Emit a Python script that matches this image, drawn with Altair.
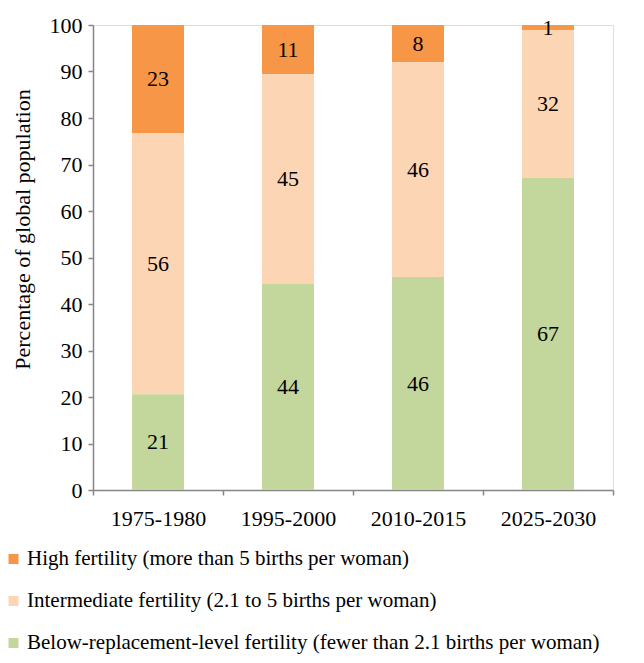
import altair as alt
import pandas as pd

periods = ["1975-1980", "1995-2000", "2010-2015", "2025-2030"]
below = [20.6, 44.3, 45.8, 67.2]
intermediate = [56.2, 45.1, 46.2, 31.7]
high = [23.2, 10.6, 8.0, 1.1]

series_names = [
    "High fertility (more than 5 births per woman)",
    "Intermediate fertility (2.1 to 5 births per woman)",
    "Below-replacement-level fertility (fewer than 2.1 births per woman)",
]
series_colors = ["#F79646", "#FCD5B5", "#C3D69B"]
stack_rank = [2, 1, 0]

rows = []
for i, p in enumerate(periods):
    for name, vals, rank in zip(series_names, [high, intermediate, below], stack_rank):
        rows.append({"period": p, "series": name, "value": vals[i], "rank": rank,
                     "label": str(int(round(vals[i])))})
df = pd.DataFrame(rows)

FONT = "Liberation Serif"

base = alt.Chart(df).transform_stack(
    stack="value", groupby=["period"], as_=["y0", "y1"],
    sort=[alt.SortField("rank", order="ascending")]
).transform_calculate(mid="(datum.y0 + datum.y1) / 2")

x = alt.X("period:N", sort=periods, title=None,
          scale=alt.Scale(paddingInner=0, paddingOuter=0),
          axis=alt.Axis(labelAngle=0, labelFontSize=22, labelFont=FONT, labelColor="black",
                        domainColor="#868686", tickColor="#868686", tickSize=5,
                        tickBand="extent", labelPadding=13, domainWidth=1.5, tickWidth=1.5))

bars = base.mark_bar(width=52).encode(
    x=x,
    y=alt.Y("y0:Q", scale=alt.Scale(domain=[0, 100]),
            title="Percentage of global population",
            axis=alt.Axis(values=list(range(0, 101, 10)), grid=False,
                          labelFontSize=22, labelFont=FONT, labelColor="black",
                          titleFont=FONT, titleFontSize=22, titleFontWeight="normal",
                          titleColor="black", titleX=-71, titleY=204, titleAngle=270,
                          titleAlign="center", titleBaseline="middle",
                          domainColor="#868686", tickColor="#868686", tickSize=5,
                          labelPadding=6, domainWidth=1.5, tickWidth=1.5)),
    y2="y1:Q",
    color=alt.Color("series:N", scale=alt.Scale(domain=series_names, range=series_colors),
                    legend=alt.Legend(title=None, orient="none", legendX=-90, legendY=523.5,
                                      direction="vertical", symbolType="square",
                                      symbolSize=100, symbolStrokeWidth=0,
                                      labelFont=FONT, labelFontSize=21, labelColor="black",
                                      rowPadding=20, labelOffset=3, labelLimit=700,
                                      padding=0)),
)

texts = base.mark_text(font=FONT, fontSize=22, color="black", baseline="middle").encode(
    x=alt.X("period:N", sort=periods),
    y=alt.Y("mid:Q"),
    text="label:N",
)

chart = alt.layer(bars, texts).properties(
    width=520, height=465,
    autosize=alt.AutoSizeParams(type="none"),
    padding={"left": 85, "top": 17, "right": 23, "bottom": 165},
).configure_view(stroke=None).configure(background="white")

chart.save("out.html", embed_options={"renderer": "svg", "actions": False})
